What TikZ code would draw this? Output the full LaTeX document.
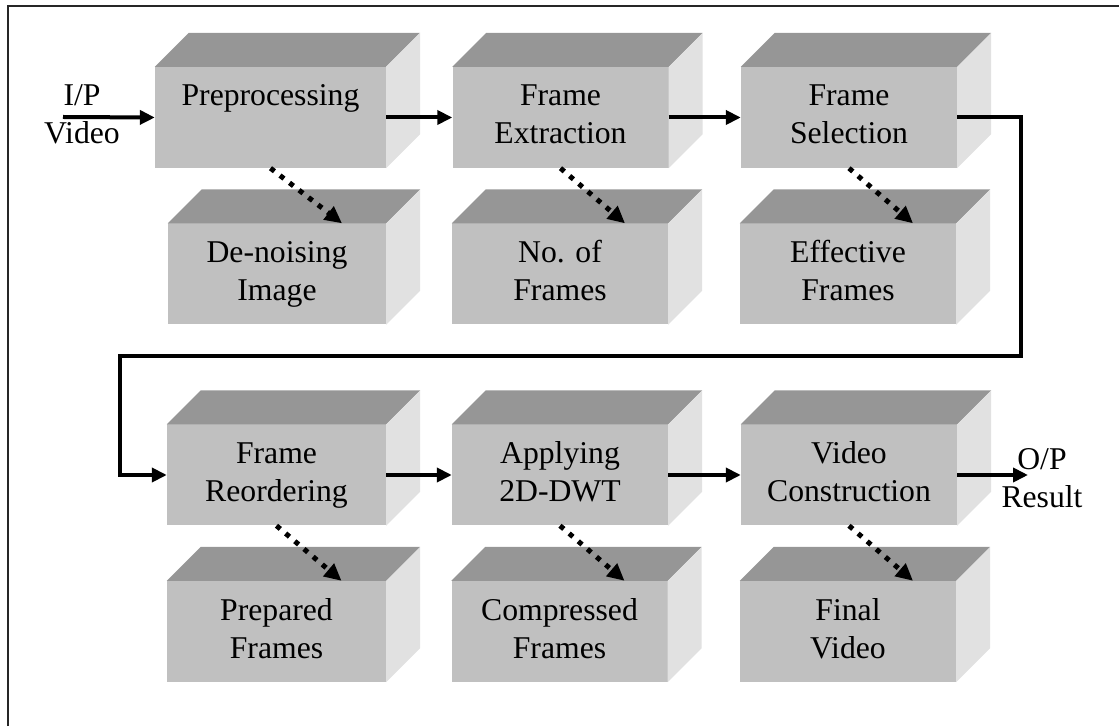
\documentclass[tikz,border=0pt]{standalone}
\usepackage{fontspec}
\setmainfont{Liberation Serif}
\usetikzlibrary{arrows.meta}
\definecolor{frontgray}{HTML}{C0C0C0}
\definecolor{topgray}{HTML}{969696}
\definecolor{sidegray}{HTML}{E1E1E1}

\begin{document}
\begin{tikzpicture}[x=1pt,y=1pt,
  face/.style={fill=frontgray,inner sep=0pt,minimum width=216pt,minimum height=101pt,text height=62pt,text depth=9pt,align=center,font=\fontsize{31.7}{38}\selectfont},
  lbl/.style={align=center,inner sep=0pt,font=\fontsize{31.7}{38}\selectfont},
  flow/.style={line width=4pt,-{Triangle[length=15pt,width=14pt]}},
  dots/.style={line width=5pt,dash pattern=on 5pt off 7pt,-{Triangle[length=17pt,width=16pt]}}]
\useasboundingbox (0,0) rectangle (1119,726);
%frame
\draw [line width=2.7pt,black!85] (8,0) -- (8,720) -- (1119,720);
%first row
\node [face,minimum width=231pt,text height=24pt,text depth=47pt] (pre) at (270.5,608.5) {Preprocessing};
\node [face] (ext) at (560.5,608.5) {Frame\\Extraction};
\node [face] (sel) at (849,608.5) {Frame\\Selection};
%second row
\node [face,minimum width=218pt] (den) at (277,452) {De-noising\\Image};
\node [face] (nof) at (560,452) {No. of\\Frames};
\node [face] (eff) at (848,452) {Effective\\Frames};
%third row
\node [face,minimum width=219pt] (reo) at (276.5,251) {Frame\\Reordering};
\node [face] (app) at (560,251) {Applying\\2D-DWT};
\node [face] (con) at (849,251) {Video\\Construction};
%fourth row
\node [face,minimum width=219pt] (prep) at (276.5,94.5) {Prepared\\Frames};
\node [face] (com) at (559.5,94.5) {Compressed\\Frames};
\node [face] (fin) at (848,94.5) {Final\\Video};
%top and side faces
\foreach \n in {pre,ext,sel,den,nof,eff,reo,app,con,prep,com,fin}{
  \fill [topgray] (\n.north west) -- ++(34,34) -- ([shift={(34,34)}]\n.north east) -- (\n.north east) -- cycle;
  \fill [sidegray] (\n.north east) -- ++(34,34) -- ([shift={(34,34)}]\n.south east) -- (\n.south east) -- cycle;
}
%input and output
\node [lbl] (inp) at (82,612) {I/P\\Video};
\node [lbl] (outp) at (1042,248) {O/P\\Result};
\coordinate (inbeg) at (63,609);
\coordinate (outend) at (1028,251);
\coordinate (turnA) at (1021,370);
\coordinate (turnB) at (120,370);
%arrows
\draw [flow] (inbeg) -- (pre.west);
\draw [flow] (pre.east) -- (ext.west);
\draw [flow] (ext.east) -- (sel.west);
\draw [flow] (sel.east) -| (turnA) -- (turnB) |- (reo.west);
\draw [flow] (reo.east) -- (app.west);
\draw [flow] (app.east) -- (con.west);
\draw [flow] (con.east) -- (outend);
%dotted arrows
\draw [dots] (pre.south) -- ([xshift=65pt]den.north);
\draw [dots] (ext.south) -- ([xshift=65pt]nof.north);
\draw [dots] (sel.south) -- ([xshift=65pt]eff.north);
\draw [dots] (reo.south) -- ([xshift=65pt]prep.north);
\draw [dots] (app.south) -- ([xshift=65pt]com.north);
\draw [dots] (con.south) -- ([xshift=65pt]fin.north);
\end{tikzpicture}
\end{document}
